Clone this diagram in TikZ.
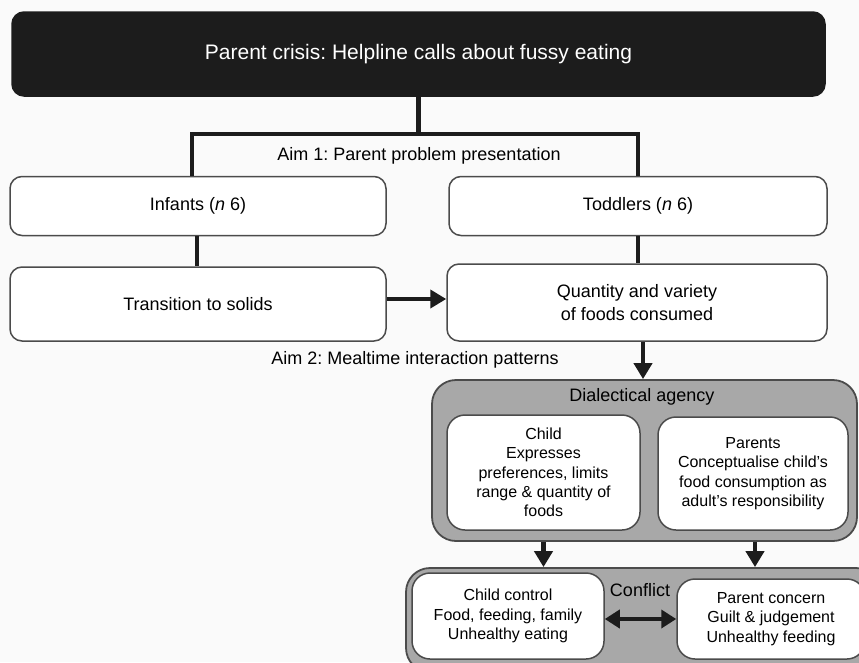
\documentclass[tikz,border=0pt]{standalone}
\usepackage{fontspec}
\setmainfont{Liberation Sans}
\usetikzlibrary{arrows.meta,positioning}
\definecolor{crisisblack}{RGB}{28,28,28}
\definecolor{groupgray}{RGB}{168,168,168}
\definecolor{edgegray}{RGB}{75,75,75}
\definecolor{paper}{RGB}{250,250,250}
\frenchspacing
\tikzset{
	>={Triangle[length=16pt,width=18pt]},
	roundbox/.style={
		rectangle,
		rounded corners=12pt,
		fill=white,
		draw=edgegray, line width=1.5pt,
		inner sep=2pt,
		align=center,
		font=\fontsize{18}{23}\selectfont},
	smallbox/.style={roundbox, rounded corners=18pt, font=\fontsize{16}{19.3}\selectfont},
	crisisbox/.style={roundbox, fill=crisisblack, draw=crisisblack, text=white,
		font=\fontsize{21}{25}\selectfont},
	groupbox/.style={rectangle, rounded corners=24pt, fill=groupgray, draw=edgegray, line width=1.8pt},
	aimtext/.style={font=\fontsize{18}{22}\selectfont},
	line/.style={draw=crisisblack, line width=4.5pt},
	arrowline/.style={line, ->},
}

\begin{document}
\begin{tikzpicture}[x=1pt, y=-1pt]
	\useasboundingbox (0,0) rectangle (859,662);
	\fill[paper] (0,0) rectangle (859,662);

	% top and aim 1
	\node[crisisbox, minimum width=813, minimum height=84] (a) at (418.5,54) {Parent crisis: Helpline calls about fussy eating};
	\node[roundbox, minimum width=376, minimum height=59] (b) at (198,206) {Infants (\textit{n} 6)};
	\node[roundbox, minimum width=378, minimum height=59] (c) at (638,206) {Toddlers (\textit{n} 6)};
	\node[roundbox, minimum width=376, minimum height=74] (d) at (198,304) {Transition to solids};
	\node[roundbox, minimum width=380, minimum height=77] (e) at (637,302.5) {Quantity and variety\\of foods consumed};
	\node[aimtext] (aim1) at (419,156) {Aim 1: Parent problem presentation};
	\node[aimtext] (aim2) at (415,360) {Aim 2: Mealtime interaction patterns};

	% aim 2 groups
	\node[groupbox, minimum width=425, minimum height=161] (agency) at (644.5,460.5) {};
	\node[groupbox, minimum width=474, minimum height=104] (conflict) at (643,620) {};
	\node[aimtext] (agencytitle) at (642,397) {Dialectical agency};
	\node[aimtext] (conflicttitle) at (640,590) {Conflict};
	\node[smallbox, minimum width=193, minimum height=115] (f) at (543.5,472.5) {Child\\Expresses\\preferences, limits\\range \& quantity of\\foods};
	\node[smallbox, minimum width=190, minimum height=113] (g) at (753,473.5) {Parents\\Conceptualise child’s\\food consumption as\\adult’s responsibility};
	\node[smallbox, minimum width=192, minimum height=86] (h) at (508,616) {Child control\\Food, feeding, family\\Unhealthy eating};
	\node[smallbox, minimum width=188, minimum height=80] (i) at (771,619) {Parent concern\\Guilt \& judgement\\Unhealthy feeding};

	% connectors
	\draw[line] (a.south) -- ++(0,37) coordinate (fork);
	\draw[line] ([xshift=-6pt]b.north) |- (fork) -| (c.north);
	\draw[line] ([xshift=-1pt]b.south) -- ([xshift=-1pt]d.north);
	\draw[line] (c.south) -- (c.south |- e.north);
	\draw[arrowline] ([yshift=5pt]d.east) -- ([yshift=5pt]d.east -| e.west);
	\draw[arrowline] ([xshift=6pt]e.south) -- ([xshift=6pt]e.south |- agency.north);
	\draw[arrowline] (f.south |- agency.south) -- (f.south |- conflict.north);
	\draw[arrowline] ([xshift=2pt]g.south |- agency.south) -- ([xshift=2pt]g.south |- conflict.north);
	\draw[line, {Triangle[length=15pt,width=18pt]}-{Triangle[length=15pt,width=18pt]}] (h.east |- i.west) -- (i.west);
\end{tikzpicture}
\end{document}
